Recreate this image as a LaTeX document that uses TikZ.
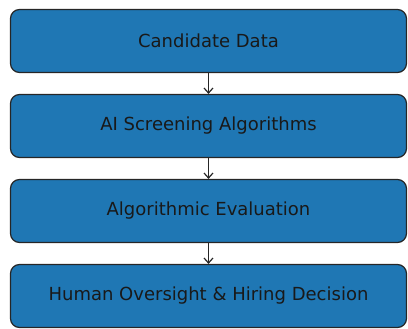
\documentclass[tikz,border=0pt]{standalone}
\usepackage{fontspec}
\setmainfont{DejaVu Sans}
\usetikzlibrary{arrows.meta}

\tikzset{
  stagebox/.style={draw=black!85, line width=1.2pt, fill={rgb,255:red,31;green,119;blue,180},
    rounded corners=9pt, minimum width=396pt, minimum height=63pt, inner sep=0pt,
    font=\fontsize{18pt}{21pt}\selectfont, text=black!90},
  flow/.style={-{Straight Barb[length=5pt,width=9pt]}, line width=1.2pt, black!85}
}

\begin{document}
\begin{tikzpicture}[x=1pt, y=1pt]

\useasboundingbox (0, 0) rectangle (408, -329);

\node[stagebox] (data) at (208.5, -41) {Candidate Data};
\node[stagebox] (screen) at (208.5, -126) {AI Screening Algorithms};
\node[stagebox] (eval) at (208.5, -211) {Algorithmic Evaluation};
\node[stagebox] (human) at (208.5, -296) {Human Oversight \& Hiring Decision};

\draw[flow] (data) -- (screen);
\draw[flow] (screen) -- (eval);
\draw[flow] (eval) -- (human);

\end{tikzpicture}
\end{document}
